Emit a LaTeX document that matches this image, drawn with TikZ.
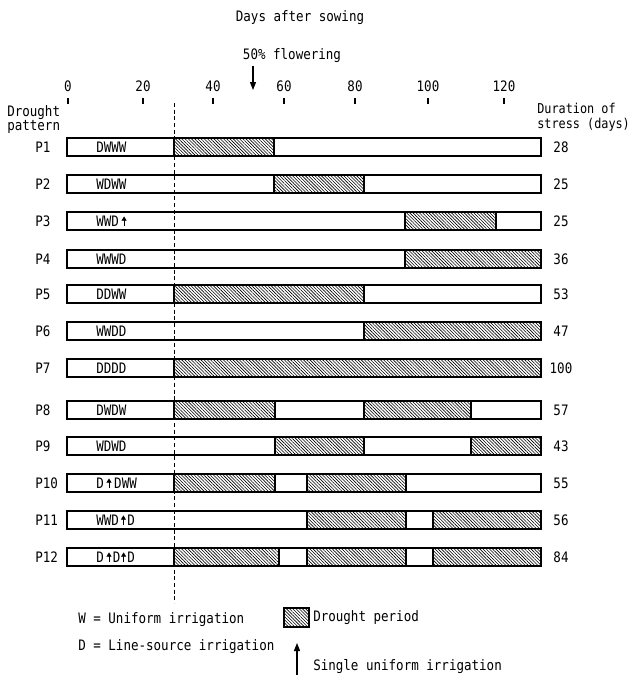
\documentclass[tikz,border=0pt]{standalone}
\usepackage{fontspec}
\setmonofont[FakeStretch=0.87]{DejaVu Sans Mono}
\usetikzlibrary{patterns.meta,arrows.meta}
\newcommand\uarrow{\tikz[baseline=0pt,x=1pt,y=1pt]\draw[line width=0.65pt,-{Triangle[length=3.2pt,width=3.8pt]}] (0,0) -- (0,7.2);}
\newcommand\hseg[3]{\draw[hatch] (#1,#3-9) rectangle (#2,#3+9);}
\tikzset{
  lab/.style={font=\ttfamily\fontsize{10.8}{11.2}\selectfont, inner sep=0pt},
  barbox/.style={line width=0.9pt},
  hatch/.style={line width=0.9pt, pattern={Lines[angle=-45,distance=1.7pt,line width=0.45pt]}},
}
\begin{document}
\begin{tikzpicture}[x=0.75pt,y=-0.75pt]
\useasboundingbox (0,0) rectangle (636,675);
% titles
\node[lab] (title) at (300,18) {Days after sowing};
\node[lab] (flow) at (292,56) {50\% flowering};
\coordinate (fa) at (253,90);
\draw[line width=0.9pt,-{Triangle[length=6pt,width=4.5pt]}] ([yshift=-2pt]flow.south -| fa) -- (fa);
% axis
\foreach \d/\x in {0/68,20/143,40/213,60/284,80/355,100/428,120/504}{
  \node[lab] (t\d) at (\x,86) {\d};
  \draw[line width=0.8pt] (\x,98) -- (\x,104);
}
\node[lab,anchor=west,align=left] (dp) at (7,119.5) {Drought\\pattern};
\node[lab,anchor=west,align=left,font=\ttfamily\fontsize{10.2}{11.2}\selectfont] (ds) at (537,117.5) {Duration of\\stress (days)};
% dashed line
\draw[line width=0.7pt,dash pattern=on 3pt off 2pt] (174,103) -- (174,603);
% hatch segments
\hseg{174}{274}{147}
\hseg{274}{364}{184}
\hseg{405}{496}{221}
\hseg{405}{541}{259}
\hseg{174}{364}{294}
\hseg{364}{541}{331}
\hseg{174}{541}{368}
\hseg{174}{275}{410} \hseg{364}{471}{410}
\hseg{275}{364}{446} \hseg{471}{541}{446}
\hseg{174}{275}{483} \hseg{307}{406}{483}
\hseg{307}{406}{520} \hseg{433}{541}{520}
\hseg{174}{279}{557} \hseg{307}{406}{557} \hseg{433}{541}{557}
% rows
\foreach \n/\y/\pat/\dur in {
  1/147/{DWWW}/28,
  2/184/{WDWW}/25,
  3/221/{WWD\kern2pt\uarrow}/25,
  4/259/{WWWD}/36,
  5/294/{DDWW}/53,
  6/331/{WWDD}/47,
  7/368/{DDDD}/100,
  8/410/{DWDW}/57,
  9/446/{WDWD}/43,
  10/483/{D\kern2pt\uarrow\kern2pt DWW}/55,
  11/520/{WWD\kern1.5pt\uarrow\kern1pt D}/56,
  12/557/{D\kern2pt\uarrow\kern1pt D\kern0.5pt\uarrow\kern1pt D}/84}{
  \draw[barbox] (67,\y-9) rectangle (541,\y+9);
  \node[lab,anchor=west] (p\n) at (35,\y) {P\n};
  \node[lab,anchor=west] (pat\n) at (96,\y) {\pat};
  \node[lab] (dur\n) at (561,\y) {\dur};
}
% legend
\node[lab,anchor=west] (legW) at (78,620) {W = Uniform irrigation};
\node[lab,anchor=west] (legD) at (78,647) {D = Line-source irrigation};
\draw[hatch] (284,608) rectangle (309,627);
\node[lab,anchor=west] (legH) at (313,618) {Drought period};
\coordinate (arrB) at (297,675);
\coordinate (arrT) at (297,643);
\draw[line width=0.9pt,-{Triangle[length=6pt,width=4.5pt]}] (arrB) -- (arrT);
\node[lab,anchor=west] (legS) at (313,667) {Single uniform irrigation};
\end{tikzpicture}
\end{document}
